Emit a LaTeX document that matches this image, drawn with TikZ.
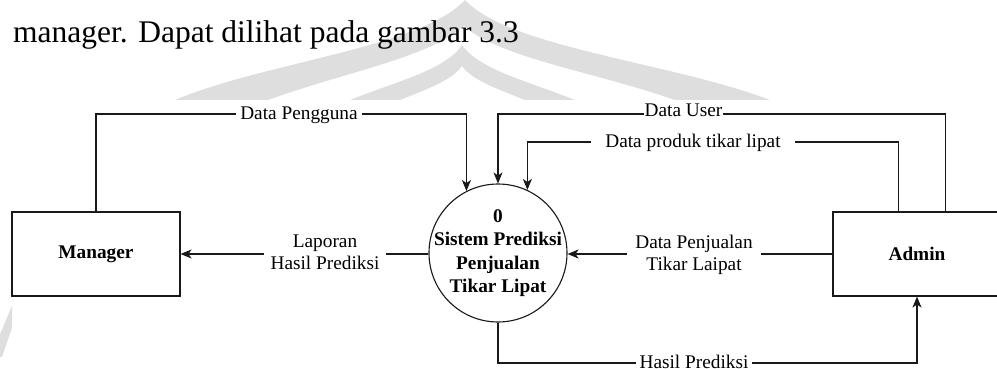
\documentclass[tikz,border=0pt]{standalone}
\usepackage{fontspec}
\setmainfont{Liberation Serif}
\usetikzlibrary{arrows.meta,calc}
\definecolor{wm}{RGB}{222,222,222}
\definecolor{ln}{RGB}{25,25,25}
\begin{document}
\begin{tikzpicture}[x=1pt,y=-1pt,
  box/.style={draw=ln, line width=1.1pt, minimum width=168pt, minimum height=84pt, inner sep=0pt, font=\fontsize{19.3}{22}\selectfont\bfseries},
  proc/.style={draw=ln, line width=1.1pt, circle, minimum size=138pt, inner sep=0pt},
  ptext/.style={inner sep=0pt, align=center, font=\fontsize{19.3}{23.3}\selectfont\bfseries},
  flow/.style={draw=ln, line width=1.1pt},
  arr/.style={flow, -{Stealth[length=11pt,width=9pt,inset=3pt]}},
  lbl/.style={fill=white, inner xsep=4pt, inner ysep=1pt, align=center, font=\fontsize{19.3}{22}\selectfont},
]
\useasboundingbox (0,0) rectangle (997,369);
% watermark (faint logo behind the page)
\fill[wm] (175,100) .. controls (265,62) and (420,48) .. (465,0)
          .. controls (510,48) and (670,62) .. (770,100)
          -- (675,100) .. controls (595,72) and (500,58) .. (464,26)
          .. controls (428,58) and (345,72) .. (268,100) -- cycle;
\fill[wm] (350,100) .. controls (400,80) and (445,70) .. (462,45)
          .. controls (480,70) and (525,80) .. (575,100)
          -- (525,100) .. controls (495,88) and (472,80) .. (462,66)
          .. controls (452,80) and (430,88) .. (400,100) -- cycle;
\fill[white] (11,100) rectangle (997,369);
\fill[wm] (12,306) -- (12,328) -- (2,357) -- (0,357) -- (0,334) -- cycle;
% title line of the page
\node[anchor=base west, inner sep=0pt, font=\fontsize{31.5}{36}\selectfont] (title) at (13,43) {manager. Dapat dilihat pada gambar 3.3};
% entities and process
\node[box] (mgr) at (96,254) {Manager};
\node[box] (adm) at (917,254) {Admin};
\node[proc] (c) at (498,253) {};
\node[ptext] (ct) at (498,253) {0\\Sistem Prediksi\\Penjualan\\Tikar Lipat};
% flows
\draw[arr] (mgr.north) |- (c.117.6 |- 0,114) -- (c.117.6);
\draw[arr] ($(adm.north west)+(113,0)$) |- (c.north |- 0,114) -- (c.north);
\draw[arr] ($(adm.north west)+(66,0)$) |- (c.65.15 |- 0,142) -- (c.65.15);
\draw[arr] (c.west |- mgr.east) -- (mgr.east);
\draw[arr] (adm.west) -- (adm.west -| c.east);
\draw[arr] (c.south) |- (adm.south |- 0,363) -- (adm.south);
% labels
\node[lbl, anchor=base] (l1) at (299,119) {Data Pengguna};
\node[lbl, anchor=base, inner xsep=1pt] (l2) at (683.5,117) {Data User};
\node[lbl, anchor=base, inner xsep=14pt] (l3) at (693,147) {Data produk tikar lipat};
\node[lbl, inner xsep=7pt] (l4) at (325,252.6) {Laporan\\Hasil Prediksi};
\node[lbl, inner xsep=8pt] (l5) at (694,254.5) {Data Penjualan\\Tikar Laipat};
\node[lbl, anchor=base] (l6) at (694,368) {Hasil Prediksi};
\end{tikzpicture}
\end{document}
